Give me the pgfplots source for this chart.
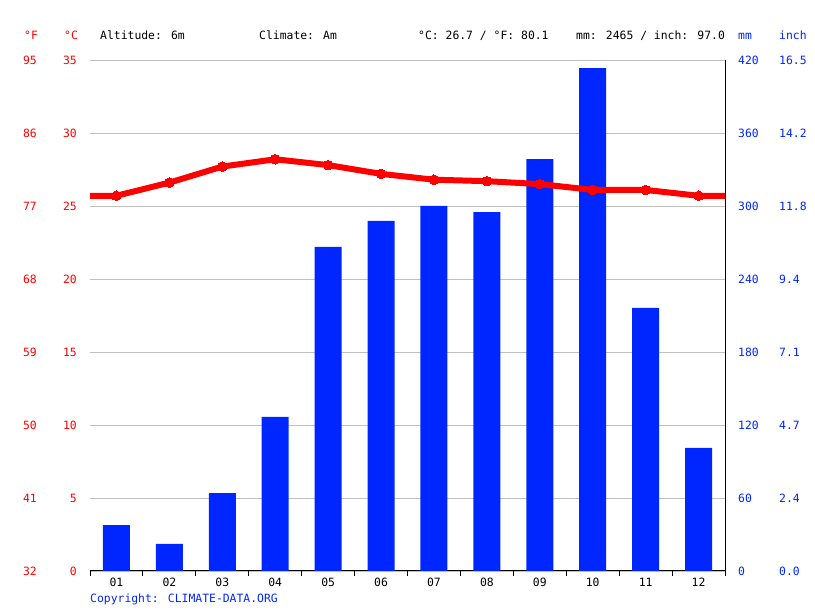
\documentclass[border=0pt]{standalone}
\usepackage{pgfplots}
\pgfplotsset{compat=1.18}
\usepackage{fontspec}
\setmainfont{DejaVu Sans Mono}
\definecolor{cdred}{RGB}{255,0,0}
\definecolor{cdblue}{RGB}{0,38,255}
\definecolor{cdgrid}{RGB}{192,192,192}
\newcommand{\cdfont}{\fontsize{11.4bp}{13bp}\selectfont}
\begin{document}
\begin{tikzpicture}[x=1bp,y=1bp]
\path (0,0) rectangle (815,611);
\pgfplotsset{
  cdbase/.style={at={(90bp,40bp)}, anchor=south west, width=635bp, height=511bp,
    scale only axis, xmin=0.5, xmax=12.5,
    /pgf/number format/assume math mode=true,
    tick label style={font=\cdfont}, major tick length=0pt},
}
\begin{axis}[cdbase, ymin=0, ymax=420,
  axis x line*=bottom, axis y line*=right,
  xtick={1,...,12}, xticklabels={01,02,03,04,05,06,07,08,09,10,11,12},
  extra x ticks={0.5,1.5,...,12.5}, extra x tick labels={},
  extra x tick style={major tick length=5bp, tick align=outside, tick style={black, line width=1bp}},
  ytick={0,60,...,420}, ymajorgrids, grid style={cdgrid, line width=0.8bp},
  yticklabel style={cdblue, anchor=west, inner sep=0pt, xshift=13bp},
  xticklabel style={black, anchor=center, inner sep=0pt, yshift=-11bp},
  axis line style={black, line width=1bp},
]
\addplot[ybar, bar width=27bp, fill=cdblue, draw=none] coordinates {
(1,37.8) (2,22.2) (3,64.1) (4,126.6) (5,266.3) (6,287.7)
(7,300.0) (8,295.0) (9,338.6) (10,413.4) (11,216.2) (12,101.1)};
\draw[black, line width=1bp] (rel axis cs:1,1) -- ([yshift=20bp]rel axis cs:1,1);
\end{axis}
\begin{axis}[cdbase, ymin=0, ymax=35, hide x axis, axis y line*=left,
  axis line style={draw=none}, ytick={0,5,...,35},
  yticklabel style={cdred, anchor=east, inner sep=0pt, xshift=-13bp}, clip=false]
\addplot[cdred, line width=6bp, line join=round, mark=*, mark size=4.8bp,
  mark options={fill=cdred, draw=cdred, line width=0pt}, mark indices={2,...,13}] coordinates {
(0.5,25.7) (1,25.7) (2,26.6) (3,27.7) (4,28.2) (5,27.8) (6,27.2)
(7,26.8) (8,26.7) (9,26.5) (10,26.1) (11,26.1) (12,25.7) (12.5,25.7)};
\end{axis}
\begin{axis}[cdbase, ymin=32, ymax=95, hide x axis, axis y line*=left,
  axis line style={draw=none}, ytick={32,41,...,95},
  yticklabel style={cdred, anchor=east, inner sep=0pt, xshift=-53bp}]
\end{axis}
\begin{axis}[cdbase, ymin=0, ymax=420, hide x axis, axis y line*=right,
  axis line style={draw=none}, ytick={0,60,...,420},
  yticklabels={0.0,2.4,4.7,7.1,9.4,11.8,14.2,16.5},
  yticklabel style={cdblue, anchor=west, inner sep=0pt, xshift=54bp}]
\end{axis}
\begin{scope}[every node/.style={font=\cdfont, inner sep=0pt, anchor=base west}]
\node[cdred] at (24,571) {°F};
\node[cdred] at (64,571) {°C};
\node at (100,571) {Altitude: 6m};
\node at (259,571) {Climate: Am};
\node at (418,571) {°C: 26.7 / °F: 80.1};
\node at (576,571) {mm: 2465 / inch: 97.0};
\node[cdblue] at (738,571) {mm};
\node[cdblue] at (779,571) {inch};
\node[cdblue] at (90,8) {Copyright: CLIMATE-DATA.ORG};
\end{scope}
\end{tikzpicture}
\end{document}
